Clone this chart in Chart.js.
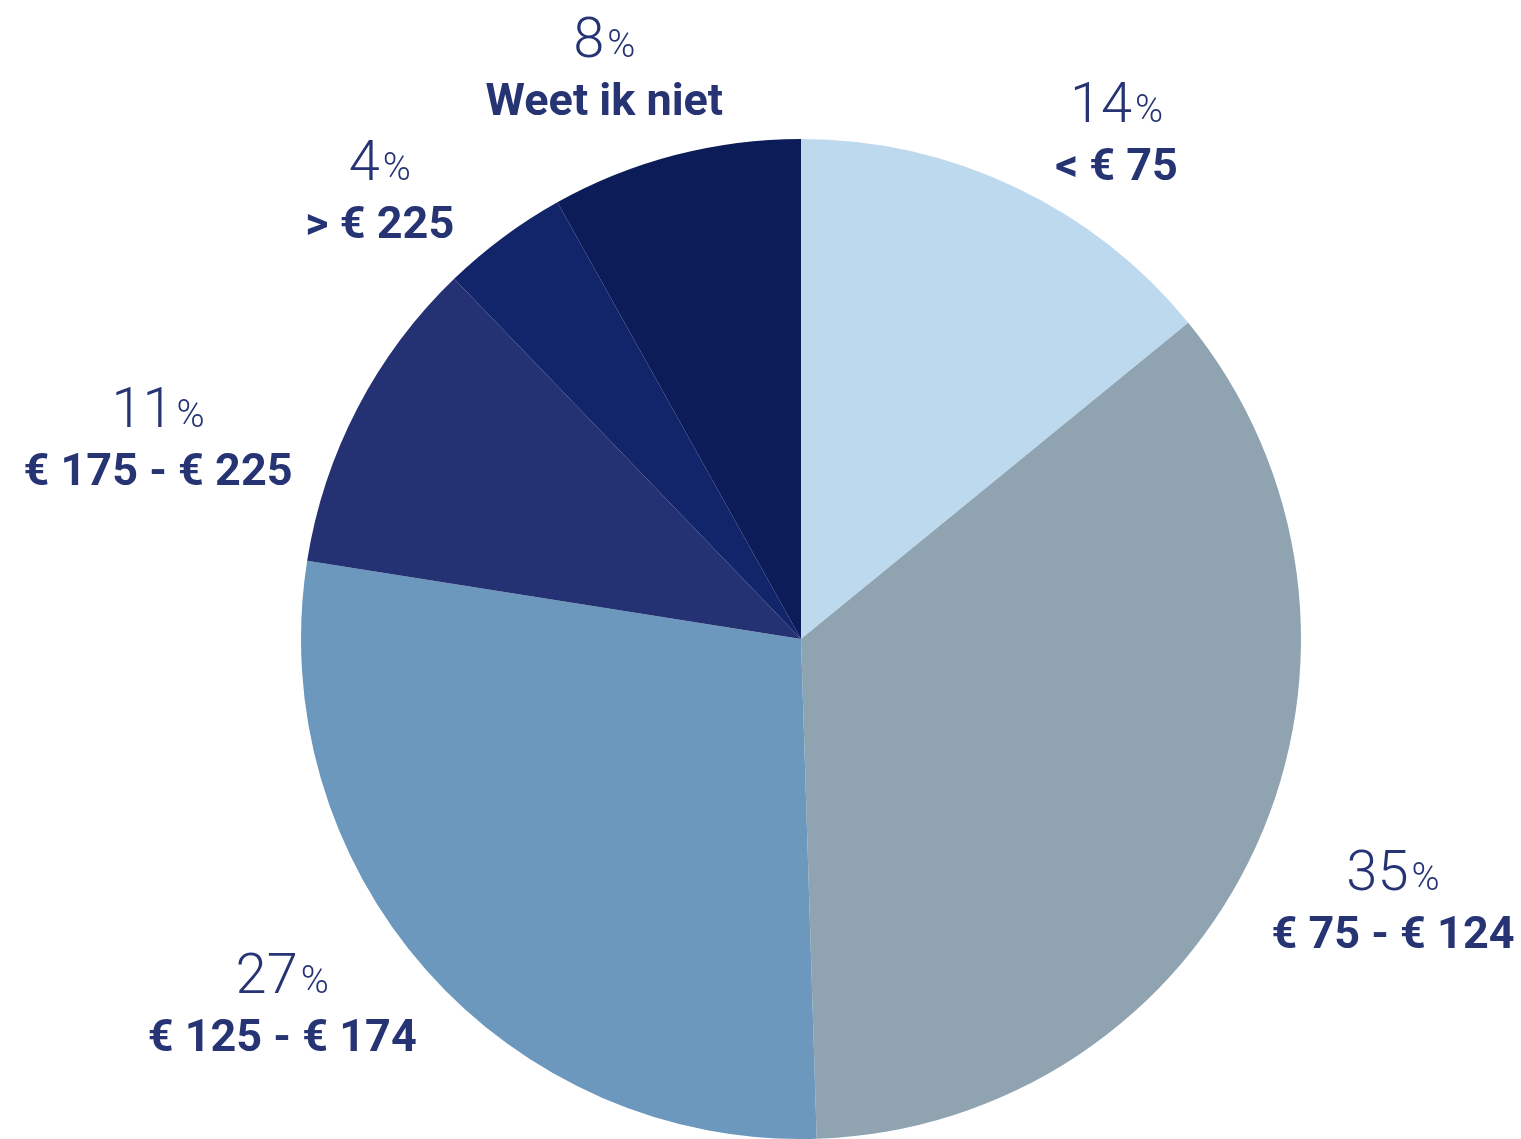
<!DOCTYPE html>
<html>
<head>
<meta charset="utf-8">
<script src="https://cdn.jsdelivr.net/npm/chart.js@4/dist/chart.umd.min.js"></script>
<style>
  html, body { margin: 0; padding: 0; background: #ffffff; }
  #wrap { width: 1521px; height: 1139px; }
</style>
</head>
<body>
<div id="wrap"><canvas id="pie"></canvas></div>
<script>
const categories = ['< € 75', '€ 75 - € 124', '€ 125 - € 174', '€ 175 - € 225', '> € 225', 'Weet ik niet']
// printed (rounded) percentages
const percentages = [14, 35, 27, 11, 4, 8]
const sliceShares = [14.1, 35.4, 28.0, 10.3, 4.1, 8.1]
const sliceColors = ['#BDD9EE', '#90A3B1', '#6C98BE', '#243172', '#13256A', '#0B1C58']

// label placement relative to slice middle: angle shift (deg), distance as share of radius
const labelNudge = [
    { da: 6, rf: 1.212 },
    { da: -1.5, rf: 1.286 },
    { da: 7.1, rf: 1.256 },
    { da: -9.3, rf: 1.354 },
    { da: -6.0, rf: 1.246 },
    { da: -4.1, rf: 1.228 }
]

const textColor = '#263474'

const sliceLabelsPlugin = {
    id: 'sliceLabels',
    afterDatasetsDraw: (chart) => {
        const { ctx } = chart
        const arcs = chart.getDatasetMeta(0).data
        ctx.save()
        ctx.fillStyle = textColor
        ctx.textBaseline = 'alphabetic'

        arcs.forEach((arc, i) => {
            const mid = (arc.startAngle + arc.endAngle) / 2 + labelNudge[i].da * Math.PI / 180
            const r = arc.outerRadius * labelNudge[i].rf
            const cx = arc.x + Math.cos(mid) * r
            const cy = arc.y + Math.sin(mid) * r

            // percentage: big light number with smaller % sign
            const num = String(percentages[i])
            ctx.font = '300 56px Roboto'
            const wNum = ctx.measureText(num).width
            ctx.font = '300 38px Roboto'
            const wPct = ctx.measureText('%').width
            const gap = 3
            const startX = cx - (wNum + gap + wPct) / 2
            ctx.textAlign = 'left'
            ctx.font = '300 56px Roboto'
            ctx.fillText(num, startX, cy)
            ctx.font = '300 38px Roboto'
            ctx.fillText('%', startX + wNum + gap, cy)

            // category
            ctx.textAlign = 'center'
            ctx.font = 'bold 45px Roboto'
            ctx.fillText(categories[i], cx, cy + 58)
        })
        ctx.restore()
    }
}

new Chart(document.getElementById('pie').getContext('2d'), {
    type: 'pie',
    data: {
        labels: categories,
        datasets: [{
            data: sliceShares,
            backgroundColor: sliceColors,
            borderWidth: 0
        }]
    },
    options: {
        responsive: true,
        maintainAspectRatio: false,
        animation: false,
        layout: {
            padding: { left: 81, right: 0, top: 139, bottom: 0 }
        },
        plugins: {
            legend: { display: false },
            tooltip: { enabled: false }
        }
    },
    plugins: [sliceLabelsPlugin]
})
</script>
</body>
</html>
